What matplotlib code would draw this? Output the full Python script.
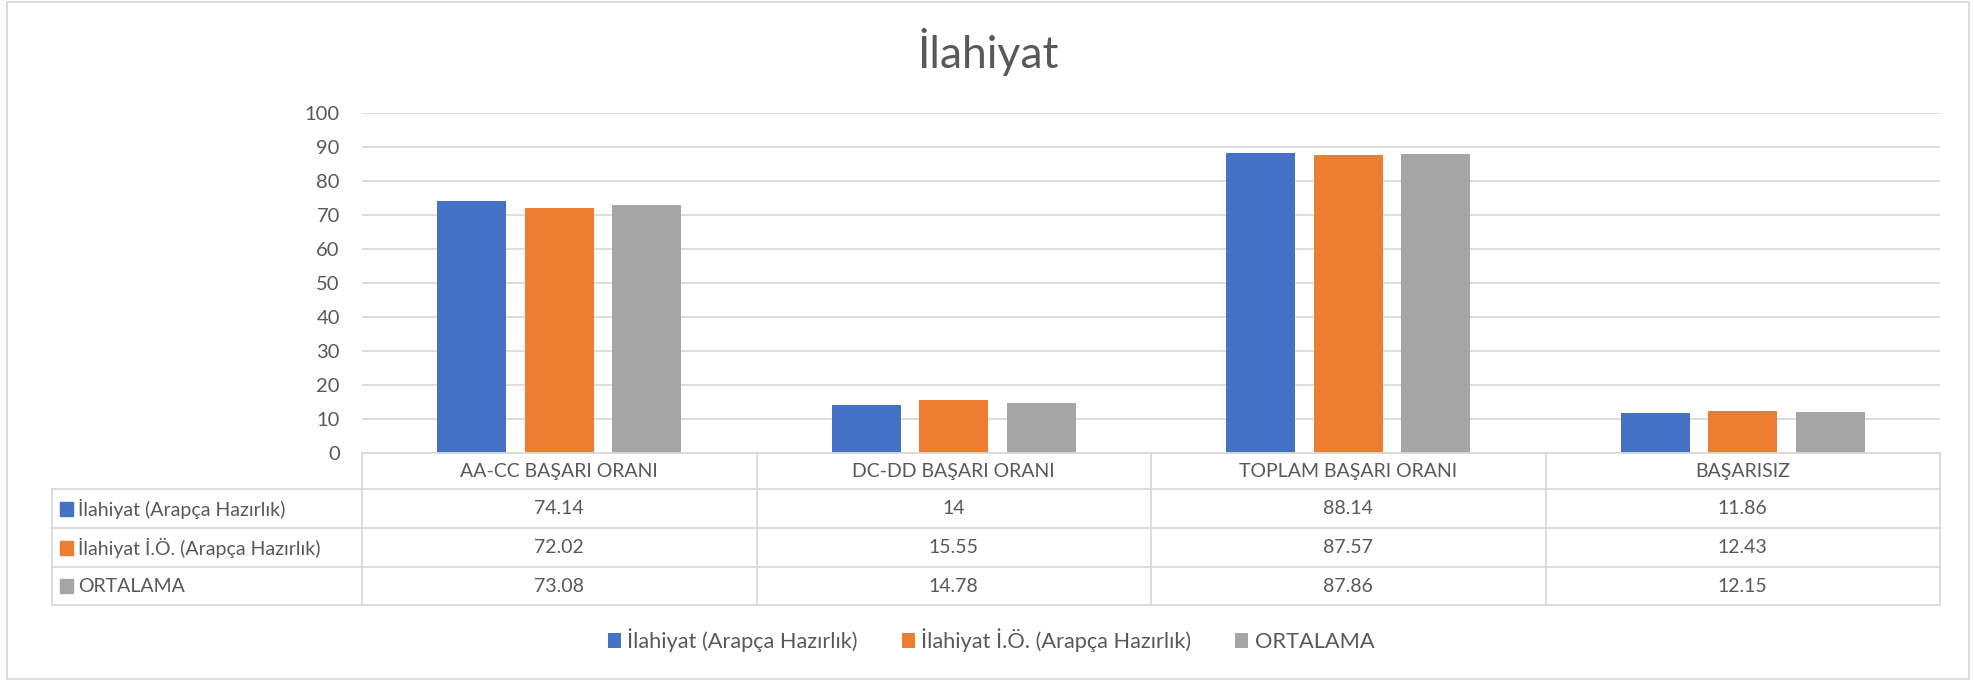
import matplotlib
matplotlib.use("Agg")
import matplotlib.pyplot as plt
from matplotlib.patches import Patch, Rectangle

plt.rcParams['font.family'] = ['Lato', 'DejaVu Sans']

# veriler
kategoriler = ['AA-CC BAŞARI ORANI', 'DC-DD BAŞARI ORANI', 'TOPLAM BAŞARI ORANI', 'BAŞARISIZ']
seriler = ['İlahiyat (Arapça Hazırlık)', 'İlahiyat İ.Ö. (Arapça Hazırlık)', 'ORTALAMA']
ilahiyat = [74.14, 14, 88.14, 11.86]
ilahiyat_io = [72.02, 15.55, 87.57, 12.43]
ortalama = [73.08, 14.78, 87.86, 12.15]
etiketler = [['74.14', '14', '88.14', '11.86'],
             ['72.02', '15.55', '87.57', '12.43'],
             ['73.08', '14.78', '87.86', '12.15']]
renkler = ['#4472C4', '#ED7D31', '#A5A5A5']
yticks = list(range(0, 101, 10))

metin = '#595959'
cizgi = '#D9D9D9'
W, H = 1973, 680

fig = plt.figure(figsize=(W / 100, H / 100), dpi=100)

# dis cerceve
fig.patches.append(Rectangle((7 / W, 1 / H), 1962 / W, 677 / H, transform=fig.transFigure,
                             fill=False, edgecolor=cizgi, linewidth=1.3))

# grafik alani (piksel: x 362-1940, y 113-453)
ax = fig.add_axes([362 / W, (H - 453) / H, 1578 / W, 340 / H])
x = range(len(kategoriler))
bw = 0.175
off = 0.222
for i, (vals, c) in enumerate(zip([ilahiyat, ilahiyat_io, ortalama], renkler)):
    ax.bar([k + (i - 1) * off for k in x], vals, width=bw, color=c, zorder=3)
ax.set_xlim(-0.5, len(kategoriler) - 0.5)
ax.set_ylim(0, 100)
ax.set_yticks(yticks)
ax.tick_params(axis='y', length=0, pad=16, labelsize=14.5, labelcolor=metin)
ax.set_xticks([])
ax.grid(axis='y', color=cizgi, linewidth=1.3, zorder=0)
for s in ax.spines.values():
    s.set_visible(False)

fig.text(988 / W, 1 - 52 / H, 'İlahiyat', ha='center', va='center', fontsize=32, color=metin)

# veri tablosu (piksel: x 52-1940, y 453-605)
tax = fig.add_axes([52 / W, (H - 605) / H, 1888 / W, 152 / H])
sol = -0.5 - 310 / 394.5
tax.set_xlim(sol, len(kategoriler) - 0.5)
tax.set_ylim(152, 0)
tax.axis('off')
satir = [0, 36, 75, 114, 152]
lw = 1.3
# yatay cizgiler
tax.plot([-0.5, 3.5], [0, 0], color=cizgi, lw=lw, clip_on=False)
for yy in satir[1:]:
    tax.plot([sol, 3.5], [yy, yy], color=cizgi, lw=lw, clip_on=False)
# dikey cizgiler
tax.plot([sol, sol], [satir[1], satir[-1]], color=cizgi, lw=lw, clip_on=False)
for k in range(len(kategoriler) + 1):
    tax.plot([k - 0.5, k - 0.5], [0, satir[-1]], color=cizgi, lw=lw, clip_on=False)

for k, kat in enumerate(kategoriler):
    tax.text(k, (satir[0] + satir[1]) / 2, kat, ha='center', va='center', fontsize=14, color=metin)
for r in range(len(seriler)):
    yc = (satir[r + 1] + satir[r + 2]) / 2
    tax.add_patch(Rectangle((sol + 8 / 394.5, yc - 7), 13 / 394.5, 14, color=renkler[r], clip_on=False))
    tax.text(sol + 26 / 394.5, yc, seriler[r], ha='left', va='center', fontsize=14, color=metin)
    for k in range(len(kategoriler)):
        tax.text(k, yc, etiketler[r][k], ha='center', va='center', fontsize=14, color=metin)

# lejant
tutamak = [Patch(facecolor=c, edgecolor='none') for c in renkler]
fig.legend(tutamak, seriler, loc='center', bbox_to_anchor=(991 / W, 1 - 640 / H), ncol=3,
           frameon=False, fontsize=15.7, labelcolor=metin, handlelength=0.6, handleheight=0.65,
           handletextpad=0.3, columnspacing=2.0)

fig.savefig('out.png', dpi=100, facecolor='white')
